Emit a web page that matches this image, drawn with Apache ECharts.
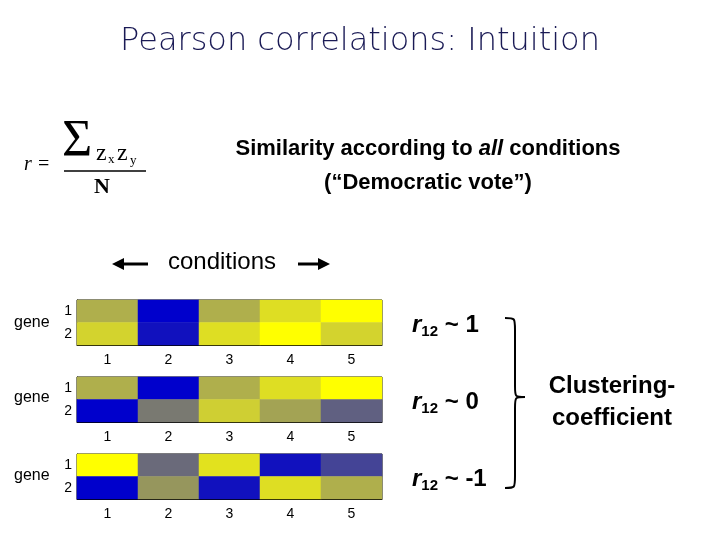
<!DOCTYPE html>
<html><head><meta charset="utf-8">
<script src="https://cdn.jsdelivr.net/npm/echarts@6/dist/echarts.min.js"></script>
<style>html,body{margin:0;background:#fff}#c{width:720px;height:540px}</style>
</head><body><div id="c"></div>
<script>
const conditions = ['1', '2', '3', '4', '5']
const genes = ['1', '2']
// expression level per panel: [gene1 row, gene2 row], 0 = blue, 1 = yellow
const panelA = [[0.65, 0.0, 0.65, 0.85, 1.0], [0.8, 0.05, 0.85, 1.0, 0.8]]
const panelB = [[0.65, 0.0, 0.65, 0.85, 1.0], [0.0, 0.42, 0.78, 0.6, 0.3]]
const panelC = [[1.0, 0.35, 0.87, 0.05, 0.2], [0.0, 0.55, 0.05, 0.85, 0.65]]
const rLabels = ['1', '0', '-1']
const panels = [panelA, panelB, panelC]

const chart = echarts.init(document.getElementById('c'))
const tops = [300, 377, 454]
const grids = [], xAxes = [], yAxes = [], series = []
panels.forEach((p, i) => {
	grids.push({left: 77, width: 305, top: tops[i], height: 45, show: true, borderColor: '#000', borderWidth: 1})
	xAxes.push({type: 'category', data: conditions, gridIndex: i,
		axisTick: {show: false}, axisLine: {lineStyle: {color: '#000'}},
		axisLabel: {color: '#000', fontSize: 14, margin: 8}})
	yAxes.push({type: 'category', data: genes, gridIndex: i, inverse: true,
		axisTick: {show: false}, axisLine: {lineStyle: {color: '#000'}},
		axisLabel: {color: '#000', fontSize: 14, margin: 5}})
	const d = []
	p.forEach((row, r) => row.forEach((v, c) => d.push([c, r, v])))
	series.push({type: 'heatmap', xAxisIndex: i, yAxisIndex: i, data: d, z: 1})
})

const txt = (x, y, text, font, extra) => ({type: 'text', x, y, style: Object.assign({text, font, fill: '#000'}, extra || {})})
const seg = (x1, y1, x2, y2, w) => ({type: 'line', shape: {x1, y1, x2, y2}, style: {stroke: '#000', lineWidth: w}})
const curve = (x1, y1, cpx1, cpy1, x2, y2) => ({type: 'bezierCurve', shape: {x1, y1, cpx1, cpy1, cpx2: cpx1, cpy2: cpy1, x2, y2}, style: {stroke: '#000', lineWidth: 2, fill: null}})

const graphic = [
	txt(360, 26, 'Pearson correlations: Intuition', '300 32px "DejaVu Sans"', {fill: '#1a1a55', align: 'center'}),
	txt(24, 155, 'r =', 'italic 20px "Liberation Serif"'),
	txt(62, 116, 'Σ', '52px "Liberation Serif"'),
	txt(96, 142, 'z', '24px "Liberation Serif"'),
	txt(108, 153, 'x', '13px "Liberation Serif"'),
	txt(117, 142, 'z', '24px "Liberation Serif"'),
	txt(130, 154, 'y', '13px "Liberation Serif"'),
	seg(64, 171, 146, 171, 1.5),
	txt(94, 176, 'N', 'bold 22px "Liberation Serif"'),
	txt(428, 132, 'Similarity according to {i|all} conditions\n(“Democratic vote”)', 'bold 22px "Liberation Sans"',
		{align: 'center', lineHeight: 34, rich: {i: {font: 'bold italic 22px "Liberation Sans"'}}}),
	txt(222, 250, 'conditions', '24px "Liberation Sans"', {align: 'center'}),
	seg(118, 264, 148, 264, 3),
	{type: 'polygon', shape: {points: [[112, 264], [124, 258], [124, 270]]}, style: {fill: '#000'}},
	seg(298, 264, 322, 264, 3),
	{type: 'polygon', shape: {points: [[330, 264], [318, 258], [318, 270]]}, style: {fill: '#000'}},
	txt(14, 315, 'gene', '16px "Liberation Sans"'),
	txt(14, 390, 'gene', '16px "Liberation Sans"'),
	txt(14, 468, 'gene', '16px "Liberation Sans"'),
	curve(505, 318, 515, 318, 515, 330),
	seg(515, 330, 515, 386, 2),
	curve(515, 386, 515, 397, 525, 397),
	curve(525, 397, 515, 397, 515, 408),
	seg(515, 408, 515, 476, 2),
	curve(515, 476, 515, 488, 505, 488),
	txt(612, 370, 'Clustering-\ncoefficient', 'bold 24px "Liberation Sans"', {align: 'center', lineHeight: 32})
]
rLabels.forEach((t, i) => {
	graphic.push(txt(412, tops[i] + 12, '{i|r}{s|12} ~ ' + t, 'bold 24px "Liberation Sans"',
		{rich: {i: {font: 'bold italic 24px "Liberation Sans"'}, s: {font: 'bold 15px "Liberation Sans"', padding: [12, 0, 0, 0]}}}))
})

chart.setOption({
	animation: false,
	grid: grids, xAxis: xAxes, yAxis: yAxes, series,
	visualMap: {show: false, min: 0, max: 1, seriesIndex: [0, 1, 2],
		inRange: {color: ['#0000cc', '#555588', '#8a8a66', '#c8c83a', '#ffff00']}},
	graphic
})
</script></body></html>
